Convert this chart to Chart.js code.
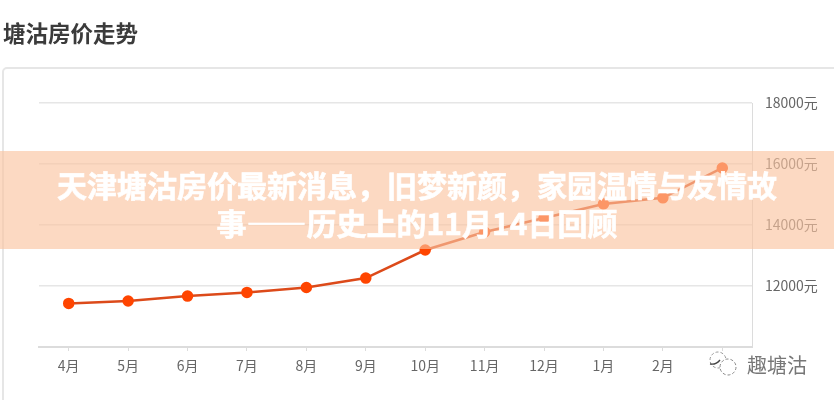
<!DOCTYPE html>
<html lang="zh-CN">
<head>
<meta charset="UTF-8">
<title>塘沽房价走势</title>
<script src="https://cdn.jsdelivr.net/npm/chart.js"></script>
<style>
  html, body { margin: 0; padding: 0; background: #fff; width: 834px; height: 400px; overflow: hidden; font-family: "Noto Sans CJK SC", sans-serif; }
  #heading { position: absolute; left: 3px; top: 17px; font-size: 22.5px; line-height: 30px; font-weight: 700; color: #3b3b3b; filter: blur(0.4px); }
  #card { position: absolute; left: 2px; top: 67px; width: 900px; height: 400px; border: 2px solid #e6e6e6; border-radius: 5px; box-sizing: border-box; }
  #wrap { position: absolute; left: 0; top: 0; width: 834px; height: 400px; filter: blur(0.5px); }
  #band { position: absolute; left: 0; top: 151px; width: 834px; height: 98px; background: rgba(250, 195, 159, 0.64); }
  #headline { position: absolute; left: 52px; top: 165px; width: 730px; text-align: center; color: #fff; font-size: 30px; line-height: 38px; font-weight: 700; -webkit-text-stroke: 0.6px #fff; filter: blur(0.3px); }
  #markBox { position: absolute; left: 703px; top: 352px; width: 110px; height: 30px; background: #fff; }
  #mark { position: absolute; left: 707px; top: 350px; width: 34px; height: 28px; filter: blur(0.4px); }
  #markText { position: absolute; left: 747px; top: 352px; font-size: 20px; line-height: 26px; color: #777; filter: blur(0.4px); }
</style>
</head>
<body>
<div id="heading">塘沽房价走势</div>
<div id="card"></div>
<div id="wrap"><canvas id="myChart" width="834" height="400"></canvas></div>
<div id="markBox"></div>
<svg id="mark" viewBox="0 0 34 28">
  <circle cx="11" cy="10" r="8" fill="none" stroke="#999" stroke-width="1" stroke-dasharray="3 2"/>
  <circle cx="21" cy="17" r="8" fill="#fff" stroke="#888" stroke-width="1" stroke-dasharray="3 2"/>
  <path d="M3 14 Q9 15 13 10" fill="none" stroke="#444" stroke-width="1.4"/>
</svg>
<div id="markText">趣塘沽</div>
<div id="band"></div>
<div id="headline">天津塘沽房价最新消息&#xFF0C;旧梦新颜&#xFF0C;家园温情与友情故事——历史上的11月14日回顾</div>
<script>
  const months = ['4月', '5月', '6月', '7月', '8月', '9月', '10月', '11月', '12月', '1月', '2月', '3月'];
  const prices = [11430, 11510, 11670, 11790, 11950, 12260, 13180, 13770, 14230, 14690, 14890, 15870];
  const yTicks = [10000, 12000, 14000, 16000, 18000];

  const ctx = document.getElementById('myChart').getContext('2d');
  const myChart = new Chart(ctx, {
    type: 'line',
    data: {
      labels: months,
      datasets: [{
        data: prices,
        borderColor: '#dc4a1a',
        borderWidth: 2.5,
        backgroundColor: '#ff4500',
        pointBackgroundColor: '#ff4500',
        pointBorderColor: '#ff4500',
        pointRadius: 4.5,
        tension: 0
      }]
    },
    options: {
      responsive: false,
      animation: false,
      layout: { padding: { left: 39, top: 103, right: 0, bottom: 0 } },
      plugins: { legend: { display: false }, tooltip: { enabled: false } },
      scales: {
        x: {
          afterFit: scale => { scale.height = 53; },
          offset: true,
          border: { color: '#dcdcdc', width: 2 },
          grid: { drawOnChartArea: false, drawTicks: true, tickLength: 4, color: '#dcdcdc' },
          ticks: { color: '#666', padding: 6, maxRotation: 0, autoSkip: false, font: { family: '"Noto Sans CJK SC"', size: 14 } }
        },
        y: {
          position: 'right',
          min: 10000,
          max: 18000,
          afterFit: scale => { scale.width = 82; },
          afterBuildTicks: scale => { scale.ticks = yTicks.map(v => ({ value: v })); },
          border: { color: '#dcdcdc', width: 1 },
          grid: { color: '#e6e6e6', lineWidth: 1.5, drawTicks: false },
          ticks: {
            color: '#666',
            padding: 13,
            font: { family: '"Noto Sans CJK SC"', size: 14 },
            callback: v => v === 10000 ? '' : v + '元'
          }
        }
      }
    }
  });
</script>
</body>
</html>
